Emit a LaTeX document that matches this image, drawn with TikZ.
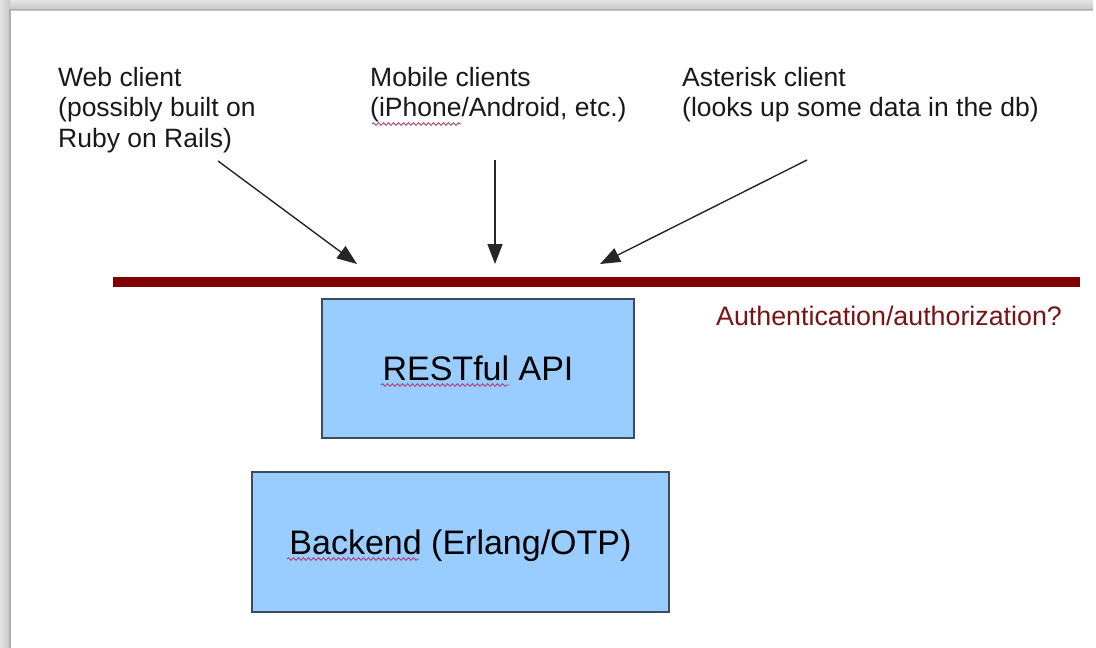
\documentclass[tikz,border=0pt]{standalone}
\usepackage{fontspec}
\setmainfont{Liberation Sans}
\usetikzlibrary{arrows.meta,decorations.pathmorphing}
\definecolor{barred}{HTML}{800000}
\definecolor{authred}{HTML}{7A1414}
\definecolor{boxfill}{HTML}{99CCFF}
\definecolor{boxline}{HTML}{3C4C5C}
\definecolor{squig}{HTML}{B0306A}
\begin{document}
\begin{tikzpicture}[x=1pt,y=-1pt,
  clienttext/.style={anchor=north west, inner sep=0pt, align=left, font=\fontsize{26.5}{30.5}\selectfont, text=black!90},
  block/.style={draw=boxline, fill=boxfill, line width=1.3pt, inner sep=0pt, font=\fontsize{34}{40}\selectfont, text height=24.5pt, text depth=0pt},
  flow/.style={-{Triangle[length=20pt,width=15pt]}, line width=1.4pt, black!85},
  spell/.style={squig, line width=0.8pt, decorate, decoration={snake, amplitude=1.3pt, segment length=5pt}},
  bar/.style={barred, line width=10pt}
]
\useasboundingbox (0,0) rectangle (1096,648);
\fill[white] (0,0) rectangle (1096,648);
\shade[top color=gray!22, bottom color=gray!45] (0,0) rectangle (1093,10);
\shade[left color=gray!22, right color=gray!45] (0,0) rectangle (10,648);
\draw[gray!65, line width=1.2pt] (10,648) -- (10,9.5) -- (1093,9.5);

% client labels
\node[clienttext] (web) at (58,67) {Web client\\(possibly built on\\Ruby on Rails)};
\node[clienttext] (mobile) at (370,67) {Mobile clients\\(iPhone/Android, etc.)};
\node[clienttext] (ast) at (682,67) {Asterisk client\\(looks up some data in the db)};

% authentication bar
\coordinate (barL) at (113,282);
\coordinate (barR) at (1080,282);
\draw[bar] (barL) -- (barR);
\node[anchor=base west, inner sep=0pt, font=\fontsize{26.8}{30}\selectfont, text=authred] (auth) at (716,325) {Authentication/authorization?};

% boxes
\node[block, minimum width=312pt, minimum height=139pt] (rest) at (478,368.5) {RESTful API};
\node[block, minimum width=417pt, minimum height=140pt] (backend) at (460.5,542) {Backend (Erlang/OTP)};

% arrows
\coordinate (webS) at (218,161);
\coordinate (webT) at (357,264);
\coordinate (mobS) at (495,160);
\coordinate (mobT) at (495,264);
\coordinate (astS) at (807,160);
\coordinate (astT) at (600,264);
\draw[flow] (webS) -- (webT);
\draw[flow] (mobS) -- (mobT);
\draw[flow] (astS) -- (astT);

% spell-check underlines
\draw[spell] (372,124) -- (461,124);
\draw[spell] (381,385) -- (509,385);
\draw[spell] (287,559) -- (419,559);
\end{tikzpicture}
\end{document}
